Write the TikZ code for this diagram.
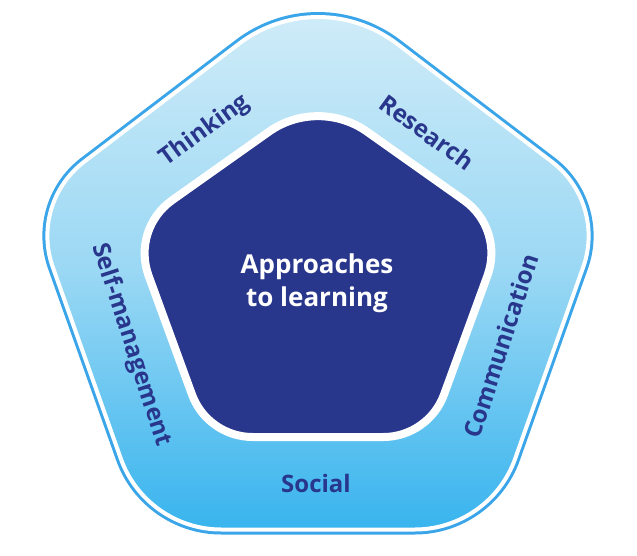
\documentclass[tikz,border=0pt]{standalone}
\usepackage{fontspec}
\setmainfont{Open Sans}
\usetikzlibrary{calc}
\definecolor{navy}{RGB}{40,54,140}
\definecolor{lineblue}{RGB}{58,165,232}
\definecolor{gtop}{RGB}{208,236,248}
\definecolor{gmid}{RGB}{155,216,244}
\definecolor{gbot}{RGB}{56,180,238}
\newcommand\mkcorner[5]{%
  \coordinate (#1a) at ($(#3)!#5pt!(#2)$);
  \coordinate (#1b) at ($(#3)!#5pt!(#4)$);
  \coordinate (#1p) at ($(#3)!0.404*#5pt!(#2)$);
  \coordinate (#1q) at ($(#3)!0.404*#5pt!(#4)$);
}
\tikzset{
  lab/.style={text=navy, font=\bfseries\fontsize{24}{28}\selectfont, inner sep=0pt},
  centre/.style={text=white, font=\bfseries\fontsize{26}{33}\selectfont, align=center, inner sep=0pt}
}
\begin{document}
\begin{tikzpicture}[x=1pt,y=-1pt]
\useasboundingbox (0,0) rectangle (637,556);
% outer pentagon vertices
\coordinate (oT) at (318,-16.5);
\coordinate (oL) at (30,203);
\coordinate (oR) at (606,203);
\coordinate (oBL) at (146,529.5);
\coordinate (oBR) at (490,529.5);
\mkcorner{oTc}{oL}{oT}{oR}{100}
\mkcorner{oRc}{oT}{oR}{oBR}{68}
\mkcorner{oBRc}{oR}{oBR}{oBL}{75}
\mkcorner{oBLc}{oBR}{oBL}{oL}{75}
\mkcorner{oLc}{oBL}{oL}{oT}{68}
\def\outerpath{(oTcb) -- (oRca) .. controls (oRcp) and (oRcq) .. (oRcb)
  -- (oBRca) .. controls (oBRcp) and (oBRcq) .. (oBRcb)
  -- (oBLca) .. controls (oBLcp) and (oBLcq) .. (oBLcb)
  -- (oLca) .. controls (oLcp) and (oLcq) .. (oLcb)
  -- (oTca) .. controls (oTcp) and (oTcq) .. (oTcb) -- cycle}
\draw[lineblue, line width=10pt] \outerpath;
\path[top color=gtop, bottom color=gbot, middle color=gmid] \outerpath;
\draw[white, line width=4pt] \outerpath;
% inner pentagon vertices
\coordinate (iT) at (318,97);
\coordinate (iL) at (131.5,229);
\coordinate (iR) at (504.5,229);
\coordinate (iBL) at (207.5,437);
\coordinate (iBR) at (428.5,437);
\mkcorner{iTc}{iL}{iT}{iR}{60}
\mkcorner{iRc}{iT}{iR}{iBR}{50}
\mkcorner{iBRc}{iR}{iBR}{iBL}{45}
\mkcorner{iBLc}{iBR}{iBL}{iL}{45}
\mkcorner{iLc}{iBL}{iL}{iT}{50}
\filldraw[fill=navy, draw=white, line width=8pt] (iTcb) -- (iRca) .. controls (iRcp) and (iRcq) .. (iRcb)
  -- (iBRca) .. controls (iBRcp) and (iBRcq) .. (iBRcb)
  -- (iBLca) .. controls (iBLcp) and (iBLcq) .. (iBLcb)
  -- (iLca) .. controls (iLcp) and (iLcq) .. (iLcb)
  -- (iTca) .. controls (iTcp) and (iTcq) .. (iTcb) -- cycle;
% labels
\node[centre] (atl) at (317,283) {Approaches\\to learning};
\node[lab, rotate=36] (think) at (205,131) {Thinking};
\node[lab, rotate=-36] (research) at (427,132) {Research};
\node[lab, rotate=-72] (self) at (131,345) {Self-management};
\node[lab, rotate=72] (comm) at (501,346) {Communication};
\node[lab] (social) at (316,483) {Social};
\end{tikzpicture}
\end{document}
